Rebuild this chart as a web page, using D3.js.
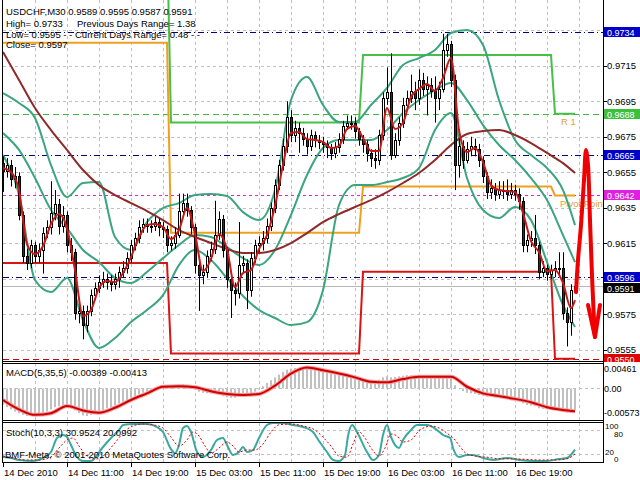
<!DOCTYPE html>
<html><head><meta charset="utf-8">
<script src="https://cdn.jsdelivr.net/npm/d3@7"></script>
<style>
body{margin:0;background:#fff}
svg{display:block}
text{font-family:"Liberation Sans",Arial,sans-serif;font-size:9.5px}
</style>
</head><body>
<svg id="c" width="640" height="480"></svg>
<script>
// ---------------- DATA ----------------
const timeLabels = ["14 Dec 2010","14 Dec 11:00","14 Dec 19:00","15 Dec 03:00","15 Dec 11:00","15 Dec 19:00","16 Dec 03:00","16 Dec 11:00","16 Dec 19:00"];
const timeLabelBars = [0,16,32,48,64,80,96,112,128];

const openP = [.9660,.9656,.9659,.9651,.9653,.9631,.9608,.9604,.9614,.9608,
 .9611,.9621,.9624,.9632,.9637,.9625,.9631,.9614,.9610,.9576,
 .9577,.9569,.9577,.9586,.9590,.9593,.9595,.9593,.9592,.9595,
 .9599,.9601,.9607,.9614,.9618,.9624,.9626,.9625,.9625,.9627,
 .9624,.9623,.9614,.9615,.9620,.9633,.9638,.9634,.9624,.9603,
 .9597,.9599,.9608,.9612,.9620,.9629,.9611,.9595,.9589,.9587,
 .9603,.9604,.9589,.9607,.9614,.9615,.9618,.9625,.9635,.9648,
 .9659,.9670,.9686,.9676,.9680,.9677,.9674,.9670,.9676,.9673,
 .9672,.9671,.9669,.9666,.9669,.9674,.9681,.9683,.9683,.9678,
 .9674,.9671,.9666,.9663,.9662,.9676,.9697,.9700,.9665,.9673,
 .9683,.9693,.9697,.9701,.9697,.9707,.9702,.9704,.9701,.9697,
 .9702,.9724,.9727,.9707,.9659,.9670,.9662,.9668,.9670,.9668,
 .9662,.9653,.9644,.9646,.9643,.9645,.9645,.9643,.9645,.9643,
 .9639,.9614,.9617,.9618,.9614,.9599,.9601,.9598,.9600,.9601,
 .9601,.9576,.9571,.9589];
const highP = [.9664,.9663,.9662,.9658,.9655,.9633,.9612,.9617,.9616,.9615,
 .9624,.9628,.9650,.9645,.9640,.9636,.9633,.9618,.9612,.9582,
 .9580,.9580,.9589,.9593,.9597,.9599,.9598,.9597,.9598,.9602,
 .9605,.9610,.9617,.9621,.9628,.9629,.9629,.9628,.9630,.9629,
 .9627,.9625,.9619,.9624,.9643,.9643,.9643,.9636,.9626,.9605,
 .9603,.9611,.9616,.9639,.9633,.9631,.9613,.9597,.9593,.9627,
 .9608,.9606,.9610,.9617,.9619,.9622,.9629,.9638,.9651,.9662,
 .9674,.9695,.9690,.9684,.9683,.9680,.9677,.9679,.9678,.9676,
 .9675,.9673,.9671,.9672,.9677,.9684,.9687,.9687,.9686,.9680,
 .9676,.9673,.9668,.9668,.9679,.9700,.9714,.9722,.9677,.9686,
 .9697,.9701,.9710,.9706,.9713,.9711,.9709,.9708,.9709,.9706,
 .9733,.9733,.9729,.9710,.9674,.9673,.9672,.9675,.9674,.9671,
 .9664,.9655,.9651,.9649,.9650,.9650,.9651,.9649,.9648,.9646,
 .9641,.9620,.9622,.9631,.9616,.9605,.9603,.9603,.9605,.9610,
 .9610,.9579,.9592,.9595];
const lowP = [.9644,.9652,.9647,.9646,.9628,.9604,.9600,.9601,.9604,.9604,
 .9598,.9618,.9620,.9628,.9620,.9621,.9610,.9605,.9572,.9570,
 .9561,.9565,.9574,.9583,.9587,.9590,.9589,.9588,.9589,.9590,
 .9596,.9598,.9604,.9611,.9615,.9621,.9621,.9621,.9622,.9619,
 .9618,.9610,.9611,.9612,.9618,.9630,.9630,.9620,.9598,.9577,
 .9592,.9596,.9605,.9609,.9617,.9607,.9590,.9573,.9580,.9584,
 .9598,.9578,.9585,.9604,.9610,.9611,.9615,.9622,.9632,.9645,
 .9656,.9666,.9672,.9672,.9666,.9670,.9665,.9667,.9669,.9668,
 .9666,.9663,.9662,.9663,.9666,.9671,.9679,.9679,.9674,.9670,
 .9666,.9661,.9658,.9657,.9659,.9673,.9693,.9662,.9663,.9670,
 .9680,.9690,.9694,.9690,.9693,.9698,.9687,.9697,.9683,.9690,
 .9700,.9720,.9703,.9645,.9652,.9657,.9660,.9664,.9664,.9658,
 .9649,.9640,.9640,.9639,.9640,.9640,.9639,.9640,.9639,.9634,
 .9610,.9610,.9613,.9609,.9595,.9596,.9594,.9595,.9596,.9596,
 .9572,.9557,.9563,.9587];
const closeP = [.9656,.9659,.9651,.9653,.9631,.9608,.9604,.9614,.9608,.9611,
 .9621,.9624,.9632,.9637,.9625,.9631,.9614,.9610,.9576,.9577,
 .9569,.9577,.9586,.9590,.9593,.9595,.9593,.9592,.9595,.9599,
 .9601,.9607,.9614,.9618,.9624,.9626,.9625,.9625,.9627,.9624,
 .9623,.9614,.9615,.9620,.9633,.9638,.9634,.9624,.9603,.9597,
 .9599,.9608,.9612,.9620,.9629,.9611,.9595,.9589,.9587,.9603,
 .9604,.9589,.9607,.9614,.9615,.9618,.9625,.9635,.9648,.9659,
 .9670,.9686,.9676,.9680,.9677,.9674,.9670,.9676,.9673,.9672,
 .9671,.9669,.9666,.9669,.9674,.9681,.9683,.9683,.9678,.9674,
 .9671,.9666,.9663,.9662,.9676,.9697,.9700,.9665,.9673,.9683,
 .9693,.9697,.9701,.9697,.9707,.9702,.9704,.9701,.9697,.9702,
 .9724,.9727,.9707,.9659,.9670,.9662,.9668,.9670,.9668,.9662,
 .9653,.9644,.9646,.9643,.9645,.9645,.9643,.9645,.9643,.9639,
 .9614,.9617,.9618,.9614,.9599,.9601,.9598,.9600,.9601,.9601,
 .9576,.9571,.9589,.9591];

// indicator lines sampled every 4 bars (bars 0,4,...,140,143)
const bbUpper = [.96996,.96940,.96856,.96591,.96411,.96490,.96495,.96186,.96113,.96270,.96349,.96377,.96422,.96428,.96417,.96326,.96281,.96450,.96957,.97086,.96929,.96833,.96833,.96929,.97025,.97154,.97193,.97239,.97334,.97351,.97267,.96957,.96732,.96647,.96574,.96450,.96253];
const bbMiddle = [.96771,.96676,.96518,.96338,.96236,.96113,.96045,.95955,.95927,.95989,.96067,.96141,.96197,.96186,.96129,.96067,.96028,.96113,.96310,.96535,.96687,.96732,.96732,.96732,.96788,.96884,.96957,.97013,.97053,.96957,.96816,.96704,.96619,.96518,.96394,.96197,.96045];
const bbLower = [.96647,.96422,.95944,.95876,.95955,.95718,.95561,.95617,.95707,.95775,.95859,.96028,.96113,.96056,.95955,.95854,.95775,.95730,.95690,.95707,.95887,.96366,.96478,.96478,.96495,.96518,.96574,.96788,.96884,.96518,.96338,.96293,.96355,.96281,.96045,.95803,.95679];
const maSlow = [.97227,.97070,.96912,.96788,.96676,.96563,.96478,.96422,.96377,.96332,.96281,.96225,.96186,.96152,.96118,.96096,.96096,.96113,.96152,.96208,.96270,.96315,.96355,.96394,.96439,.96490,.96546,.96619,.96704,.96766,.96782,.96788,.96760,.96715,.96659,.96602,.96546];
// fast MA sampled every 2 bars (bars 0,2,...,142,143)
const maFast = [.96574,.96552,.96450,.96146,.96090,.96135,.96259,.96315,.96236,.96000,
 .95741,.95775,.95899,.95938,.95932,.95983,.96073,.96186,.96253,.96259,
 .96242,.96174,.96225,.96349,.96203,.95994,.96062,.96203,.96118,.95904,
 .95983,.96000,.96118,.96197,.96360,.96591,.96771,.96777,.96737,.96732,
 .96721,.96687,.96698,.96794,.96811,.96743,.96670,.96670,.96912,.96794,
 .96828,.96974,.97019,.97047,.97008,.97081,.97193,.96788,.96664,.96687,
 .96608,.96478,.96450,.96445,.96439,.96321,.96163,.96101,.95994,.96000,
 .95927,.95786,.95831];

// daily pivot levels: 14, 15, 16, 17 Dec (first bar of each day)
const dayStartBars = [0,42,90,138];
const pivotP  = [0.9728,0.9621,0.9647,0.9642];
const pivotR1 = [0.9790,0.9683,0.9721,0.9688];
const pivotS1 = [0.9604,0.9553,0.9599,0.9550];

// horizontal levels with price tags
const levelPrices = [0.9734,0.9665,0.9596,0.9688,0.9642,0.9550,0.9591];
const priceTicks = [0.9555,0.9575,0.9595,0.9615,0.9635,0.9655,0.9675,0.9695,0.9715,0.9735];

// MACD(5,35,5): main per bar, signal every 4 bars
const macdMain = [-0.0030,-0.0034,-0.0038,-0.0042,-0.0045,-0.0048,-0.0050,-0.0049,-0.0049,-0.0048,
 -0.0045,-0.0042,-0.0038,-0.0034,-0.0032,-0.0030,-0.0029,-0.0031,-0.0040,-0.0045,
 -0.0049,-0.0050,-0.0048,-0.0045,-0.0042,-0.0039,-0.0036,-0.0034,-0.0031,-0.0027,
 -0.0024,-0.0021,-0.0017,-0.0014,-0.0011,-0.0008,-0.0005,-0.0002,0.0001,0.0002,
 0.0003,0.0003,0.0004,0.0005,0.0007,0.0008,0.0006,0.0003,-0.0002,-0.0006,
 -0.0008,-0.0009,-0.0009,-0.0010,-0.0012,-0.0014,-0.0016,-0.0017,-0.0017,-0.0015,
 -0.0014,-0.0013,-0.0010,-0.0006,-0.0002,0.0004,0.0010,0.0015,0.0020,0.0025,
 0.0030,0.0034,0.0036,0.0037,0.0037,0.0037,0.0036,0.0036,0.0035,0.0034,
 0.0032,0.0030,0.0027,0.0025,0.0024,0.0024,0.0023,0.0022,0.0020,0.0018,
 0.0016,0.0014,0.0013,0.0013,0.0016,0.0020,0.0022,0.0020,0.0021,0.0022,
 0.0023,0.0024,0.0024,0.0023,0.0024,0.0023,0.0023,0.0022,0.0021,0.0021,
 0.0023,0.0024,0.0020,0.0006,0.0000,-0.0005,-0.0008,-0.0009,-0.0010,-0.0012,
 -0.0013,-0.0015,-0.0015,-0.0016,-0.0016,-0.0016,-0.0016,-0.0017,-0.0018,-0.0020,
 -0.0027,-0.0030,-0.0031,-0.0032,-0.0036,-0.0037,-0.0038,-0.0038,-0.0038,-0.0038,
 -0.0042,-0.0044,-0.0041,-0.00389];
const macdSignal = [-0.0021,-0.0038,-0.0048,-0.0045,-0.0032,-0.0040,-0.0044,-0.0035,-0.0021,-0.0009,0.0003,0.0004,0.0002,-0.0005,-0.0010,-0.0012,-0.0010,0.0005,0.0027,0.0038,0.0033,0.0027,0.0020,0.0012,0.0011,0.0017,0.0021,0.0021,0.0021,0.0003,-0.0009,-0.0014,-0.0019,-0.0025,-0.0034,-0.0039,-0.00413];
const macdScale = [0.00461,0,-0.00573];

// Stochastic(10,3,3): [bar, value]
const stochMain = [[0,12.5],[2,10],[4,5],[7.5,2.5],[10,10],[12,25],[13.5,60],[15,67.5],[16,62.5],[17,42.5],[18.5,12.5],[20,2.5],[22,2.5],[23.5,17.5],[25,37.5],[27,60],[29,80],[30,92.5],[32.5,95],[36,95],[38.5,87.5],[40,75],[42,32],[43,22],[44,42.5],[45,85],[46,90],[47,75],[48.5,25],[50,12.5],[52,30],[53.5,55],[55,60],[56,42.5],[57.5,17.5],[59,25],[60,37.5],[61,25],[62.5,30],[64,60],[66,92.5],[67.5,97.5],[70,97.5],[72.5,92.5],[75,87.5],[77.5,75],[79,52.5],[81,25],[82.5,5],[84,2.5],[85.5,17.5],[86.3,67.5],[87.3,92.5],[88.5,75],[91,25],[92.5,5],[94,17.5],[95,67.5],[96,92.5],[97,62.5],[99,35],[100,55],[102,80],[103.5,92.5],[106,92.5],[108.5,80],[110,67.5],[111.8,60],[112.5,35],[114,12.5],[116,17.5],[117.5,17.5],[120,10],[122.5,5],[126,10],[129,5],[132.5,2.5],[136,2.5],[139,7.5],[141,10],[143,30.95]];
const stochSignal = [[0,15],[3,9],[6,5],[9,5],[12,13],[14,35],[16,55],[17.5,60],[19,40],[20.5,20],[22,8],[24,8],[26,25],[28,48],[30,72],[32,88],[35,95],[38,92],[40,85],[42,62],[44,40],[46,55],[47.5,75],[49,65],[50.5,40],[52,22],[54,35],[56,50],[57.5,40],[59,25],[61,30],[63,30],[65,45],[67,75],[69,93],[72,95],[75,90],[78,80],[80,62],[82,40],[84,15],[86,12],[87.5,45],[89,75],[90.5,60],[92,35],[94,15],[95.5,35],[97,70],[98.5,65],[100,50],[102,55],[104,78],[107,90],[109,85],[111,72],[113,55],[114.5,35],[116,20],[118,15],[121,12],[124,8],[127,8],[130,7],[134,5],[138,5],[141,8],[143,20.10]];
const stochScale = [100,80,20,0];

// hand-drawn arrow annotation: [bar, price]
const arrowPath = [[143.25,.95876],[143.75,.96056],[144.5,.96253],[145.25,.96507],[145.75,.96676],[146.25,.96591],[146.75,.96281],[147.25,.95972],[147.75,.95718],[148,.95623]];
const arrowHead = [[146.25,.95803],[148,.95623],[149.25,.95803]];

// ---------------- DRAW ----------------
const svg = d3.select("#c");
const nBars = closeP.length;
const x = d3.scaleLinear().domain([0,143]).range([3,575]);
const yM = d3.scaleLinear().domain([0.95488,0.97520]).range([361,0]);
const yD = d3.scaleLinear().domain([-0.00573,0.00461]).range([420,363]);
const yS = d3.scaleLinear().domain([0,100]).range([462,422]);
const sampleBars = d3.range(0,nBars,4).concat([nBars-1]);
const fastBars = d3.range(0,nBars,2).concat([nBars-1]);

const defs = svg.append("defs");
function clip(id,x0,y0,w,h){defs.append("clipPath").attr("id",id).append("rect").attr("x",x0).attr("y",y0).attr("width",w).attr("height",h);}
clip("cm",3,0,600,361); clip("cd",3,363,600,57); clip("cs",3,423,600,39); clip("ctag",0,0,640,362);

const gridC = "#c0c0c0";
const vg = svg.append("g").attr("stroke",gridC).attr("stroke-dasharray","3,3").attr("shape-rendering","crispEdges");
d3.range(8,nBars+8,8).forEach(b=>{
  const xx = Math.round(x(b))+0.5;
  [[0,361],[363,420],[423,462]].forEach(([a,bb])=>vg.append("line").attr("x1",xx).attr("x2",xx).attr("y1",a).attr("y2",bb));
});
priceTicks.forEach(p=>{
  const yy = Math.round(yM(p))+0.5;
  vg.append("line").attr("x1",3).attr("x2",603).attr("y1",yy).attr("y2",yy);
});
macdScale.forEach(v=>{const yy=Math.round(yD(v))+0.5; vg.append("line").attr("x1",3).attr("x2",603).attr("y1",yy).attr("y2",yy);});
[80,20].forEach(v=>{const yy=Math.round(yS(v))+0.5; vg.append("line").attr("x1",3).attr("x2",603).attr("y1",yy).attr("y2",yy);});

const gm = svg.append("g").attr("clip-path","url(#cm)");

const levelStyle = [
 {c:"#000080",d:"6,3,1,3"},{c:"#000080",d:"6,3,1,3"},{c:"#000080",d:"6,3,1,3"},
 {c:"#40b840",d:"6,4"},{c:"#e020e0",d:"3,3"},{c:"#d00000",d:"6,4"},{c:"#b8b8b8",d:null}];
levelPrices.forEach((p,k)=>{
  const yy = Math.round(yM(p))+0.5;
  const l = gm.append("line").attr("x1",3).attr("x2",603).attr("y1",yy).attr("y2",yy)
    .attr("stroke",levelStyle[k].c).attr("stroke-width",1);
  if(levelStyle[k].d) l.attr("stroke-dasharray",levelStyle[k].d);
});

function dayIndex(i){let d=0; dayStartBars.forEach((s,k)=>{if(i>=s)d=k;}); return d;}
const bars = d3.range(nBars);
const stepLine = arr => d3.line().x(i=>x(i)).y(i=>yM(arr[dayIndex(i)]))(bars);
[[pivotR1,"#46c046"],[pivotP,"#f0a020"],[pivotS1,"#d81414"]].forEach(([arr,c])=>{
  gm.append("path").attr("d",stepLine(arr)).attr("fill","none").attr("stroke",c).attr("stroke-width",2);
});
gm.append("text").attr("x",561).attr("y",125).attr("fill","#e0a040").text("R 1");
gm.append("text").attr("x",560).attr("y",207).attr("fill","#e0a040").text("Pivot Point");

const sLine = d3.line().x((d,k)=>x(sampleBars[k])).y(d=>yM(d)).curve(d3.curveMonotoneX);
[bbUpper,bbMiddle,bbLower].forEach(a=>gm.append("path").attr("d",sLine(a)).attr("fill","none").attr("stroke","#3aa57e").attr("stroke-width",2));
gm.append("path").attr("d",sLine(maSlow)).attr("fill","none").attr("stroke","#8e2a2a").attr("stroke-width",2);

const gc = gm.append("g");
bars.forEach(i=>{
  const xc = Math.round(x(i));
  gc.append("line").attr("x1",xc+0.5).attr("x2",xc+0.5).attr("y1",yM(highP[i])).attr("y2",yM(lowP[i])).attr("stroke","#000").attr("stroke-width",1);
  const up = closeP[i]>=openP[i];
  const t = Math.round(yM(Math.max(openP[i],closeP[i])));
  const b = Math.round(yM(Math.min(openP[i],closeP[i])));
  gc.append("rect").attr("x",xc-0.5).attr("y",t+0.5).attr("width",2).attr("height",Math.max(b-t,1))
    .attr("fill",up?"#fff":"#1d3d1d").attr("stroke","#000").attr("stroke-width",1);
});
const fLine = d3.line().x((d,k)=>x(fastBars[k])).y(d=>yM(d)).curve(d3.curveMonotoneX);
gm.append("path").attr("d",fLine(maFast)).attr("fill","none").attr("stroke","#c81818").attr("stroke-width",2);

const aLine = d3.line().x(d=>x(d[0])).y(d=>yM(d[1]));
svg.append("path").attr("d",aLine.curve(d3.curveCatmullRom)(arrowPath)).attr("fill","none").attr("stroke","#f00000").attr("stroke-width",4).attr("stroke-linecap","round").attr("stroke-linejoin","round");
svg.append("path").attr("d",d3.line().x(d=>x(d[0])).y(d=>yM(d[1]))(arrowHead)).attr("fill","none").attr("stroke","#f00000").attr("stroke-width",4).attr("stroke-linecap","round").attr("stroke-linejoin","round");

const hdr = [[6,15,"USDCHF,M30  0.9589 0.9595 0.9587 0.9591"],[6,26.5,"High= 0.9733"],[77,26.5,"Previous Days Range= 1.38"],
 [6,37.5,"Low= 0.9595 - -"],[75,37.5,"Current Days Range= 0.48 - -"],[6,48,"Close= 0.9597"]];
hdr.forEach(([xx,yy,t])=>svg.append("text").attr("x",xx).attr("y",yy).attr("fill","#000").text(t));

const gd = svg.append("g").attr("clip-path","url(#cd)");
bars.forEach(i=>{
  const xc = Math.round(x(i));
  const y0 = yD(0), y1 = yD(macdMain[i]);
  gd.append("rect").attr("x",xc-1).attr("y",Math.min(y0,y1)).attr("width",2).attr("height",Math.abs(y1-y0)).attr("fill","#c0c0c0");
});
const dLine = d3.line().x((d,k)=>x(sampleBars[k])).y(d=>yD(d)).curve(d3.curveMonotoneX);
gd.append("path").attr("d",dLine(macdSignal)).attr("fill","none").attr("stroke","#f3a0a0").attr("stroke-width",4);
gd.append("path").attr("d",dLine(macdSignal)).attr("fill","none").attr("stroke","#d00000").attr("stroke-width",2);
svg.append("text").attr("x",6).attr("y",376).text("MACD(5,35,5) -0.00389 -0.00413");

const gs = svg.append("g").attr("clip-path","url(#cs)");
const stLine = d3.line().x(d=>x(d[0])).y(d=>yS(d[1])).curve(d3.curveMonotoneX);
gs.append("path").attr("d",stLine(stochMain)).attr("fill","none").attr("stroke","#3aa8a0").attr("stroke-width",2);
gs.append("path").attr("d",stLine(stochSignal)).attr("fill","none").attr("stroke","#e00000").attr("stroke-width",1).attr("stroke-dasharray","2,2");
svg.append("text").attr("x",6).attr("y",436).text("Stoch(10,3,3) 30.9524 20.0992");
svg.append("text").attr("x",5).attr("y",458).text("BMF-Meta, \u00a9 2001-2010 MetaQuotes Software Corp.");

const fr = svg.append("g").attr("fill","none").attr("stroke","#000").attr("shape-rendering","crispEdges");
fr.append("line").attr("x1",2.5).attr("x2",2.5).attr("y1",0).attr("y2",463);
fr.append("line").attr("x1",603.5).attr("x2",603.5).attr("y1",0).attr("y2",463);
[361.5,363.5,420.5,422.5,462.5].forEach(yy=>fr.append("line").attr("x1",2).attr("x2",604).attr("y1",yy).attr("y2",yy));

// right axis: tick labels hidden behind price tags are skipped
const ax = svg.append("g").attr("clip-path","url(#ctag)");
const order = d3.range(levelPrices.length).sort((a,b)=>yM(levelPrices[a])-yM(levelPrices[b]));
const tagY = levelPrices.map(p=>Math.round(yM(p)));
for(let k=1;k<order.length;k++){const a=order[k-1],b=order[k]; if(tagY[b]-tagY[a]<11) tagY[b]=tagY[a]+11;}
priceTicks.forEach(p=>{
  const yy = yM(p);
  ax.append("line").attr("x1",603).attr("x2",607).attr("y1",Math.round(yy)+0.5).attr("y2",Math.round(yy)+0.5).attr("stroke","#000");
  if(tagY.some(t=>Math.abs(t-yy)<7)) return;
  ax.append("text").attr("x",607).attr("y",yy+3.5).text(p.toFixed(4));
});
const tagColors = ["#0000c8","#0000c8","#0000c8","#3cc03c","#e020e0","#e00000","#000000"];
levelPrices.forEach((p,k)=>{
  const yy = tagY[k];
  ax.append("rect").attr("x",604).attr("y",yy-5).attr("width",36).attr("height",10).attr("fill",tagColors[k]);
  ax.append("text").attr("x",607).attr("y",yy+3.5).attr("fill","#fff").style("font-size","9px").text(p.toFixed(4));
});
[[macdScale[0],yD(macdScale[0])+9],[macdScale[1],yD(0)+3.5],[macdScale[2],yD(macdScale[2])-4]].forEach(([v,yy])=>{
  svg.append("text").attr("x",604).attr("y",yy).style("font-size","9px").text(v===0?"0.00":v.toFixed(5));
});
[[stochScale[0],yS(100)+7],[stochScale[1],yS(80)+7],[stochScale[2],yS(20)+1],[stochScale[3],yS(0)]].forEach(([v,yy],k)=>
  svg.append("text").attr("x",k%2?614:605).attr("y",yy).style("font-size","8px").text(v));

timeLabelBars.forEach((b,k)=>{
  const xx = Math.round(x(b));
  svg.append("line").attr("x1",xx+0.5).attr("x2",xx+0.5).attr("y1",463).attr("y2",467).attr("stroke","#000");
  svg.append("text").attr("x",xx+1).attr("y",476).text(timeLabels[k]);
});
</script>
</body></html>
